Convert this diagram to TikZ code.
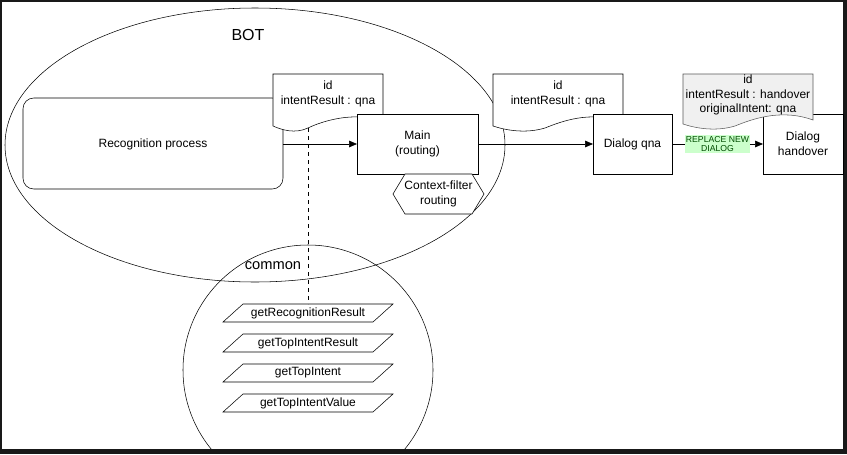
\documentclass[tikz,border=0pt]{standalone}
\usepackage{fontspec}
\setmainfont{Liberation Sans}
\usetikzlibrary{arrows.meta}
\begin{document}
\begin{tikzpicture}[x=0.75pt,y=-0.75pt,
  txt/.style={font=\fontsize{9}{11}\selectfont,align=center},
  arr/.style={-{Triangle[length=6pt,width=5pt]}}]
\useasboundingbox (0,0) rectangle (847,454);
\fill[white] (0,0) rectangle (847,454);
\begin{scope}
\clip (2,2) rectangle (843,450);
\draw (255,145) ellipse [x radius=250, y radius=137];
\draw (308,370) circle [radius=125];
\end{scope}
\fill[black!90] (0,0) rectangle (847,2);
\fill[black!90] (0,0) rectangle (2,454);
\fill[black!90] (0,449) rectangle (847,454);
\fill[black!90] (843,0) rectangle (847,454);
\node[font=\fontsize{12}{14}\selectfont] (bot) at (248,35) {BOT};
\node[font=\fontsize{11}{13}\selectfont] (common) at (273,266) {common};
% recognition
\draw[rounded corners=8pt,fill=white] (23,98) rectangle (283,189);
\node[txt] (rec) at (153,144) {Recognition process};
\coordinate (recE) at (283,144);
% doc1
\draw[fill=white] (273,74) -- (383,74) -- (383,122) .. controls (355,110) and (320,122) .. (308,128) .. controls (295,134) and (282,130) .. (273,126) -- cycle;
\node[txt] (d1) at (328,94) {id\\intentResult : qna};
\coordinate (d1b) at (308,128);
% main
\draw[fill=white] (357,114) rectangle (478,174);
\node[txt] (main) at (417.5,144) {Main\\(routing)};
\coordinate (mainW) at (357,144);
\coordinate (mainE) at (478,144);
\draw[fill=white] (393,194) -- (405,174) -- (472,174) -- (484,194) -- (472,214) -- (405,214) -- cycle;
\node[txt,inner sep=0pt] (ctx) at (438.5,194) {Context-filter\\routing};
% doc2
\draw[fill=white] (493,74) -- (623,74) -- (623,122) .. controls (590,110) and (560,122) .. (545,128) .. controls (525,134) and (505,130) .. (493,126) -- cycle;
\node[txt] (d2) at (558,94) {id\\intentResult : qna};
\draw[fill=white] (593,114) rectangle (672,174);
\node[txt] (dq) at (632.5,144) {Dialog qna};
\coordinate (dqW) at (593,144);
\coordinate (dqE) at (672,144);
% doc3
\draw[fill=white] (763,114) rectangle (843,174);
\node[txt] (dh) at (803,144) {Dialog\\handover};
\coordinate (dhW) at (763,144);
\draw[fill=gray!12,draw=gray!70!black] (683,74) -- (813,74) -- (813,120) .. controls (780,108) and (750,120) .. (735,126) .. controls (715,132) and (695,128) .. (683,124) -- cycle;
\node[txt,inner sep=0pt] (d3) at (748,95) {id\\intentResult : handover\\originalIntent: qna};
% arrows
\draw[arr] (recE) -- (mainW);
\draw[arr] (mainE) -- (dqW);
\draw[arr] (dqE) -- node[font=\fontsize{6.5}{8}\selectfont,align=center,fill=green!20,inner sep=1pt,text=green!30!black] (lbl) {REPLACE NEW\\[-1pt]DIALOG} (dhW);
% parallelograms
\foreach \y/\t/\n in {313/getRecognitionResult/p1,343/getTopIntentResult/p2,373/getTopIntent/p3,403/getTopIntentValue/p4}{
  \draw[fill=white] (223,\y+9) -- (243,\y-9) -- (393,\y-9) -- (373,\y+9) -- cycle;
  \node[txt] (\n) at (308,\y) {\t};
}
\draw[dashed] (d1b) -- (308,304);
\end{tikzpicture}
\end{document}
